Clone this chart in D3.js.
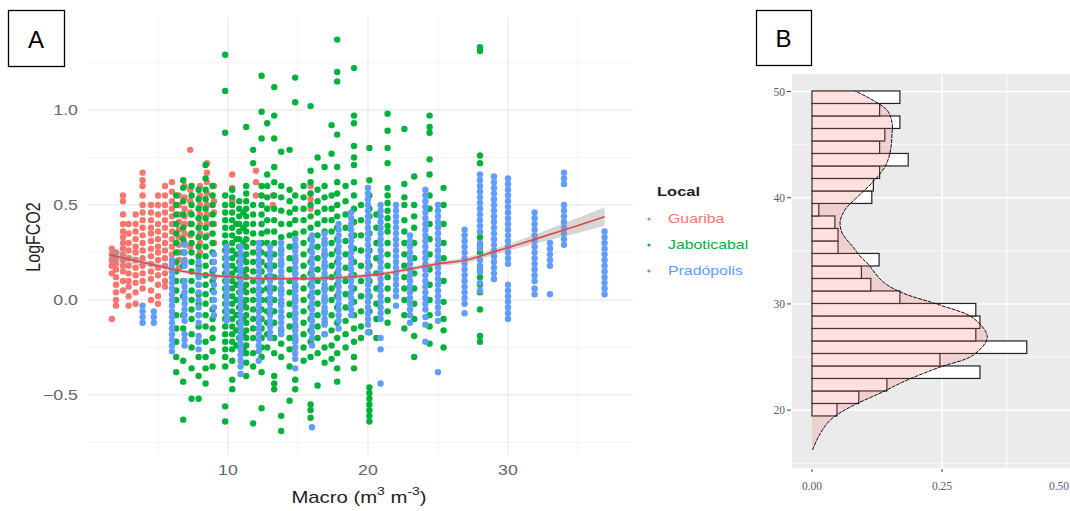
<!DOCTYPE html>
<html><head><meta charset="utf-8">
<script src="https://cdn.jsdelivr.net/npm/d3@7"></script>
<style>body{margin:0;background:#fff}svg{display:block}</style>
</head><body><svg id="c" width="1070" height="511"></svg>
<script>
// ---------------- DATA (panel A) ----------------
const localNames = ["Guariba", "Jaboticabal", "Pradópolis"];
const localColors = ["#F8766D", "#00B23A", "#619CFF"];
// columns: [Macro, [LogFCO2 x 100, ...]]
const guaribaCols = [
 [1.7,[27,24,21,18,14,-10]],
 [2.0,[25,22,19,16,12,8,4,0,-3]],
 [2.5,[55,52,45,40,36,33,30,27,24,21,18,15,10,5]],
 [2.9,[40,35,30,26,22,18,14,10,7,2,-3]],
 [3.4,[45,40,36,32,28,25,21,17,13,9,4,-2]],
 [3.9,[67,63,60,55,50,46,42,38,34,30,26,22,18,14,10,6]],
 [4.5,[50,46,42,38,35,31,27,23,19,15,11,5,0]],
 [5.0,[55,50,45,40,36,32,28,25,21,17,13,8,2,-2]],
 [5.5,[60,55,50,46,42,38,34,30,26,22,18,14,10,7]],
 [6.0,[62,57,52,48,44,40,36,32,28,24,20,15]],
 [6.5,[55,50,45,41,37,33,29,25,21,17]],
 [6.9,[60,54,48,44,40,35,30,25,20]],
 [7.3,[79,58,52,46,40,34,28]],
 [8.0,[60,55,50,45,40,35,30,25]],
 [8.5,[72,67,62,56,50,45,40,34]],
 [9.0,[60,52,46,40,30]],
 [10.3,[66,59,52]],
 [12.0,[68,62,55]],
 [13.2,[55,50]],
 [15.9,[60,56,53,48]]
];
const jaboticabalCols = [
 [6.3,[55,50,45,40,35,30,25,20,15,10,5,0,-8,-15,-22,-30,-38]],
 [6.8,[63,59,52,45,38,32,25,18,10,2,-8,-15,-32,-43,-63]],
 [7.4,[60,55,50,45,40,35,30,25,20,15,10,5,0,-5,-10,-18,-25,-36,-52]],
 [7.9,[58,53,48,43,38,33,28,23,18,13,8,3,-2,-8,-14,-22,-30,-40,-52]],
 [8.4,[71,64,58,53,48,43,38,33,28,23,18,13,8,3,-2,-8,-14,-22,-30,-36,-44]],
 [8.9,[60,55,50,45,40,35,30,25,20,15,10,5,0,-5,-10,-15,-20,-27,-35]],
 [9.8,[129,110,88,55,50,46,42,38,34,30,26,22,18,14,10,6,2,-2,-6,-10,-14,-18,-22,-26,-30,-35,-56,-64]],
 [10.3,[58,54,50,46,42,38,34,30,26,22,18,14,10,6,2,-2,-6,-10,-14,-18,-22,-26,-32,-42,-47]],
 [10.6,[40,32,24,16,8,0,-8,-16,-24]],
 [10.8,[52,48,44,40,36,32,28,24,20,16,12,8,4,0,-4,-8,-12,-16,-20,-24]],
 [11.1,[46,38,30,22,14,6,-2,-10,-18,-26]],
 [11.3,[91,60,56,52,48,44,40,36,32,28,24,20,16,12,8,4,0,-4,-8,-12,-16,-20,-24,-28,-33,-40]],
 [11.8,[79,72,50,45,40,35,30,25,20,15,10,5,0,-5,-10,-15,-20,-28,-35,-65]],
 [12.4,[118,99,85,60,55,50,45,40,35,30,25,20,15,10,5,0,-5,-10,-15,-20,-25,-30,-38,-57]],
 [12.8,[93,66,60,54,48,42,36,30,24,18,12,6,0,-6,-12,-18,-25]],
 [13.3,[112,97,85,70,62,55,48,42,36,30,24,18,12,6,0,-6,-12,-20,-28,-40,-44,-47]],
 [13.8,[78,60,54,47,40,33,26,19,12,5,-2,-9,-16,-23,-30,-61,-69]],
 [14.4,[79,58,52,46,40,34,28,22,16,10,4,-2,-8,-14,-20,-26,-35,-53]],
 [14.8,[117,104,55,48,42,35,28,21,14,7,0,-7,-14,-21,-42,-47]],
 [15.4,[60,54,48,42,36,30,24,18,12,6,0,-6,-12,-18,-25,-32]],
 [15.9,[102,68,62,56,50,44,38,32,26,20,14,8,2,-4,-10,-16,-22,-30,-55,-58,-62]],
 [16.4,[75,58,52,46,40,34,28,22,16,10,4,-2,-8,-14,-20,-28,-45]],
 [16.9,[70,60,54,48,42,36,30,24,18,12,6,0,-6,-12,-18,-25,-33]],
 [17.4,[92,77,55,48,42,36,30,24,18,12,6,0,-8,-16,-24,-31]],
 [17.8,[137,120,115,87,70,62,56,50,44,38,32,26,20,14,8,2,-4,-12,-20,-28,-36,-43]],
 [18.4,[60,52,45,38,31,24,17,10,3,-4,-11,-18,-25]],
 [19.0,[122,97,93,81,75,71,62,55,48,41,34,27,20,13,6,-1,-8,-15,-22,-30,-36]],
 [19.5,[50,42,34,26,18,10,2,-6,-14,-20]],
 [20.1,[80,63,55,48,44,35,26,18,10,2,-6,-17,-46,-49,-52,-55,-58,-61,-64]],
 [20.6,[45,38,30,22,14,6,-2,-10,-20]],
 [21.4,[98,89,80,72,59,55,51,47,43,39,36,30,24,18,12,6,0,-6,-12]],
 [22.6,[90,61,54,50,42,36,30,24,18,12,6,0,-8,-15]],
 [23.3,[65,50,44,38,30,22,14,6,-2,-10,-19,-30]],
 [24.4,[97,91,88,74,66,55,48,40,32,24,16,8,0,-8,-14,-23]],
 [25.4,[59,50,40,30,22,10,-1,-10,-16,-25]],
 [28.0,[133,131,76,72,33,29,25,17,12,8,4,-5,-19,-22]]
];
const pradopolisCols = [
 [3.9,[-3,-6,-9,-12]],
 [4.7,[-6,-9,-12]],
 [6.0,[21,18,15,12,9,6,3,0,-3,-6,-9,-12,-15,-18,-21,-24,-27]],
 [6.9,[29,25,21,18,10,7,4,1,-2,-5,-8,-11,-18,-21,-24]],
 [7.9,[20,16,12,8,4,0,-4,-8,-12,-19,-22,-26]],
 [9.0,[24,20,16,12,8,4,0,-4,-8]],
 [9.9,[28,25,22,19,16,13,10,7,4,1,-2,-5,-8,-11]],
 [10.9,[28,25,22,19,16,13,10,7,4,1,-2,-5,-8,-11,-14,-17,-20,-23,-26,-29,-32,-35,-39]],
 [12.2,[30,27,24,21,18,15,12,9,6,3,0,-3,-6,-9,-12,-15,-18,-21,-24,-27,-32]],
 [13.0,[28,25,22,19,16,13,10,7,4,1,-2,-5,-8,-11,-14,-17,-20]],
 [13.8,[30,27,24,21,18,15,12,9,6,3,0,-3,-6,-9,-12,-15,-18]],
 [14.8,[32,29,26,23,20,17,14,11,8,5,2,-1,-4,-7,-10,-13,-16,-19,-22,-25,-28,-31,-36]],
 [16.0,[34,31,28,25,22,19,16,13,10,7,4,1,-2,-5,-8,-11,-14,-17,-20,-24,-67]],
 [16.9,[35,32,29,26,23,20,17,14,11,8,5,2,-1,-4,-7,-10,-13,-18]],
 [17.9,[40,37,34,31,28,25,22,19,16,13,10,7,4,1,-2,-5,-8,-11,-15]],
 [18.8,[46,43,40,37,34,31,28,25,22,19,16,13,10,7,4,1,-2,-5,-8]],
 [20.0,[59,56,53,50,47,44,41,38,35,32,29,26,23,20,17,14,11,8,5,2,-1,-4,-7,-10,-13,-17]],
 [20.9,[50,47,44,41,38,35,32,29,26,23,20,17,14,11,8,5,2,-1,-4,-7,-10,-20,-26,-44]],
 [22.0,[50,47,44,41,38,35,32,29,26,23,20,17,14,11,8,5,2,-3]],
 [23.0,[34,31,28,25,22,19,16,13,10,7,4,1,-2,-5,-8,-12]],
 [24.1,[58,55,52,49,46,43,40,37,34,31,28,25,22,19,16,13,10,7,4,1,-2,-5,-9,-13,-22]],
 [25.0,[50,47,44,41,38,35,32,29,26,23,20,17,14,11,8,5,2,-1,-4,-7,-11,-38]],
 [26.9,[37,34,31,28,25,22,19,16,13,10,7,4,1,-2,-7]],
 [28.0,[66,63,60,57,54,51,48,45,42,39,36,30,27,21,18,15,9,5]],
 [29.0,[65,62,59,56,53,50,47,44,41,38,35,32,29,26,23,20,17,14,11]],
 [30.0,[64,61,58,55,52,49,46,43,40,37,34,31,28,25,22,19,8,5,2,-1,-4,-7,-10]],
 [31.9,[46,43,40,37,34,31,28,25,22,19,16,13,10,6,3]],
 [33.0,[30,27,24,21,18,3]],
 [34.0,[67,64,61,50,47,44,41,38,35,32,29]],
 [36.9,[36,33,30,27,24,21,18,15,12,9,6,3]]
];
// smoothing curve
const smoothX  = [1.6, 3, 5, 7, 9, 11, 13, 15, 17, 19, 21, 23, 25, 27, 29, 31, 33, 35, 36.9];
const smoothY  = [0.237,0.213,0.180,0.148,0.128,0.117,0.112,0.112,0.115,0.122,0.137,0.163,0.190,0.210,0.253,0.298,0.345,0.392,0.438];
const smoothLo = [0.197,0.190,0.166,0.138,0.118,0.107,0.102,0.102,0.105,0.112,0.127,0.152,0.178,0.196,0.237,0.277,0.315,0.352,0.390];
const smoothHi = [0.277,0.236,0.194,0.158,0.138,0.127,0.122,0.122,0.125,0.132,0.147,0.174,0.202,0.224,0.269,0.319,0.375,0.432,0.488];
const xTicksA = [10, 20, 30];
const yTicksA = [-0.5, 0.0, 0.5, 1.0];

// ---------------- DATA (panel B) ----------------
const histStart = 15.92, histWidth = 1.177;
const histDensity = [0,0,0,0.048,0.09,0.144,0.323,0.246,0.413,0.315,0.323,0.315,0.169,0.113,0.095,0.129,0.05,0.05,0.044,0.013,0.115,0.118,0.13,0.185,0.13,0.14,0.169,0.13,0.169];
const densValue   = [16.24,17.46,19.06,20.28,21.60,22.83,24.05,25.18,26.88,28.67,29.89,31.02,32.06,33.85,34.41,35.35,36.67,37.71,38.84,40.06,41.48,42.89,44.21,46.09,47.03,48.26,50.05];
const densDensity = [0.001,0.012,0.035,0.073,0.131,0.183,0.246,0.310,0.337,0.310,0.246,0.175,0.137,0.106,0.094,0.079,0.058,0.054,0.063,0.087,0.117,0.140,0.150,0.154,0.154,0.144,0.083];
const yTicksB = [20, 30, 40, 50];
const xTicksB = [0, 0.25, 0.5];
const xTickLabelsB = ["0.00", "0.25", "0.50"];

// ---------------- DRAW ----------------
const svg = d3.select("#c");
const SX = 1.27; // horizontal stretch of the original picture's text
function sText(parent, x, y, str, o) {
  const g = parent.append("g").attr("transform", `translate(${x},${y}) scale(${o.sx||SX},1)` + (o.rot ? ` rotate(${o.rot})` : ""));
  const t = g.append("text").attr("x", 0).attr("y", 0)
    .attr("font-family", o.family || "Liberation Sans, Arial, sans-serif")
    .attr("font-size", o.size).attr("fill", o.fill || "#000")
    .attr("font-weight", o.weight || "normal")
    .attr("text-anchor", o.anchor || "start")
    .attr("dominant-baseline", "central");
  if (str !== null) t.text(str);
  return t;
}

// Panel A
const xA = d3.scaleLinear().domain([0, 38.93]).range([88, 633]);
const yA = d3.scaleLinear().domain([-0.816, 1.489]).range([455, 17]);
const gA = svg.append("g");
const minorX = [5, 15, 25, 35], minorY = [-0.75, -0.25, 0.25, 0.75, 1.25];
gA.selectAll(".mnx").data(minorX).join("line").attr("x1", d => xA(d)).attr("x2", d => xA(d))
  .attr("y1", yA.range()[1]).attr("y2", yA.range()[0]).attr("stroke", "#F0F0F0").attr("stroke-width", 0.8);
gA.selectAll(".mny").data(minorY).join("line").attr("y1", d => yA(d)).attr("y2", d => yA(d))
  .attr("x1", 88).attr("x2", 633).attr("stroke", "#F0F0F0").attr("stroke-width", 0.8);
gA.selectAll(".mjx").data(xTicksA).join("line").attr("x1", d => xA(d)).attr("x2", d => xA(d))
  .attr("y1", yA.range()[1]).attr("y2", yA.range()[0]).attr("stroke", "#EAEAEA").attr("stroke-width", 1.3);
gA.selectAll(".mjy").data(yTicksA).join("line").attr("y1", d => yA(d)).attr("y2", d => yA(d))
  .attr("x1", 88).attr("x2", 633).attr("stroke", "#EAEAEA").attr("stroke-width", 1.3);

const allSeries = [guaribaCols, jaboticabalCols, pradopolisCols];
allSeries.forEach((cols, si) => {
  const pts = [];
  cols.forEach(([x, ys]) => ys.forEach(v => pts.push([x, v / 100])));
  gA.append("g").selectAll("circle").data(pts).join("circle")
    .attr("cx", d => xA(d[0])).attr("cy", d => yA(d[1])).attr("r", 3.2)
    .attr("fill", localColors[si]);
});

const sm = smoothX.map((x, i) => ({x, y: smoothY[i], lo: smoothLo[i], hi: smoothHi[i]}));
gA.append("path").datum(sm)
  .attr("d", d3.area().x(d => xA(d.x)).y0(d => yA(d.lo)).y1(d => yA(d.hi)).curve(d3.curveCatmullRom))
  .attr("fill", "#999").attr("fill-opacity", 0.4);
gA.append("path").datum(sm)
  .attr("d", d3.line().x(d => xA(d.x)).y(d => yA(d.y)).curve(d3.curveCatmullRom))
  .attr("fill", "none").attr("stroke", "#E0464E").attr("stroke-width", 1.6);

yTicksA.forEach(v => sText(svg, 78, yA(v), d3.format(".1f")(v), {size: 14, fill: "#666", anchor: "end"}));
xTicksA.forEach(v => sText(svg, xA(v), 470, String(v), {size: 14, fill: "#666", anchor: "middle"}));
sText(svg, 33, 237, "LogFCO2", {size: 16, fill: "#222", anchor: "middle", rot: -90});
{
  const t = sText(svg, 359, 497, null, {size: 16, fill: "#222", anchor: "middle"});
  t.append("tspan").text("Macro (m");
  t.append("tspan").attr("dy", -6).attr("font-size", 11).text("3");
  t.append("tspan").attr("dy", 6).text(" m");
  t.append("tspan").attr("dy", -6).attr("font-size", 11).text("-3");
  t.append("tspan").attr("dy", 6).text(")");
}
// legend
sText(svg, 657, 192, "Local", {size: 13, weight: "bold", fill: "#222"});
const legY = [219, 245, 271];
localNames.forEach((n, i) => {
  svg.append("circle").attr("cx", 649).attr("cy", legY[i]).attr("r", 1.6).attr("fill", localColors[i]);
  sText(svg, 668, legY[i], n, {size: 12.5, fill: localColors[i]});
});

// Panel B
const xB = d3.scaleLinear().domain([-0.0385, 0.5]).range([792, 1072]);
const yB = d3.scaleLinear().domain([14.55, 51.65]).range([468, 74]);
const gB = svg.append("g");
gB.append("rect").attr("x", 792).attr("y", 74).attr("width", 1070 - 792).attr("height", 468 - 74).attr("fill", "#EBEBEB");
[15, 25, 35, 45].forEach(v => gB.append("line").attr("x1", 792).attr("x2", 1070).attr("y1", yB(v)).attr("y2", yB(v)).attr("stroke", "#fff").attr("stroke-width", 0.8));
yTicksB.forEach(v => gB.append("line").attr("x1", 792).attr("x2", 1070).attr("y1", yB(v)).attr("y2", yB(v)).attr("stroke", "#fff").attr("stroke-width", 1.5));
[0.375].forEach(v => gB.append("line").attr("y1", 74).attr("y2", 468).attr("x1", xB(v)).attr("x2", xB(v)).attr("stroke", "#fff").attr("stroke-width", 0.8));
[0.25].forEach(v => gB.append("line").attr("y1", 74).attr("y2", 468).attr("x1", xB(v)).attr("x2", xB(v)).attr("stroke", "#fff").attr("stroke-width", 1.5));

const bins = histDensity.map((d, i) => ({lo: histStart + i * histWidth, hi: histStart + (i + 1) * histWidth, d})).filter(b => b.d > 0);
gB.selectAll(".bar").data(bins).join("rect")
  .attr("x", xB(0)).attr("y", b => yB(b.hi)).attr("width", b => xB(b.d) - xB(0)).attr("height", b => yB(b.lo) - yB(b.hi))
  .attr("fill", "#fff").attr("stroke", "#222").attr("stroke-width", 1.2);

const dens = densValue.map((v, i) => ({v, d: densDensity[i]}));
gB.append("path").datum(dens)
  .attr("d", d3.area().y(p => yB(p.v)).x0(xB(0)).x1(p => xB(p.d)).curve(d3.curveCatmullRom))
  .attr("fill", "#FF6666").attr("fill-opacity", 0.2);
gB.append("path").datum(dens)
  .attr("d", d3.line().y(p => yB(p.v)).x(p => xB(p.d)).curve(d3.curveCatmullRom))
  .attr("fill", "none").attr("stroke", "#111").attr("stroke-width", 1).attr("stroke-dasharray", "4,1");

yTicksB.forEach(v => {
  svg.append("line").attr("x1", 787).attr("x2", 791).attr("y1", yB(v)).attr("y2", yB(v)).attr("stroke", "#444");
  sText(svg, 785, yB(v), String(v), {size: 11.5, fill: "#58587a", anchor: "end", sx: 1.0, family: "Liberation Serif, serif"});
});
xTicksB.forEach((v, i) => {
  svg.append("line").attr("x1", xB(v)).attr("x2", xB(v)).attr("y1", 469).attr("y2", 472).attr("stroke", "#444");
  const last = i === xTicksB.length - 1;
  sText(svg, last ? 1069 : xB(v), 486, xTickLabelsB[i], {size: 11.5, fill: "#58587a", anchor: last ? "end" : "middle", sx: 1.0, family: "Liberation Serif, serif"});
});

// A / B boxes
[["A", 8, 10, 56, 56], ["B", 756, 10, 55, 55]].forEach(([s, x, y, w, h]) => {
  svg.append("rect").attr("x", x + 0.5).attr("y", y + 0.5).attr("width", w).attr("height", h).attr("fill", "#fff").attr("stroke", "#000").attr("stroke-width", 1.3);
  svg.append("text").attr("x", x + w / 2).attr("y", y + h / 2 + 1).attr("text-anchor", "middle").attr("dominant-baseline", "central")
    .attr("font-family", "Liberation Sans, Arial, sans-serif").attr("font-size", 24).text(s);
});
</script></body></html>
